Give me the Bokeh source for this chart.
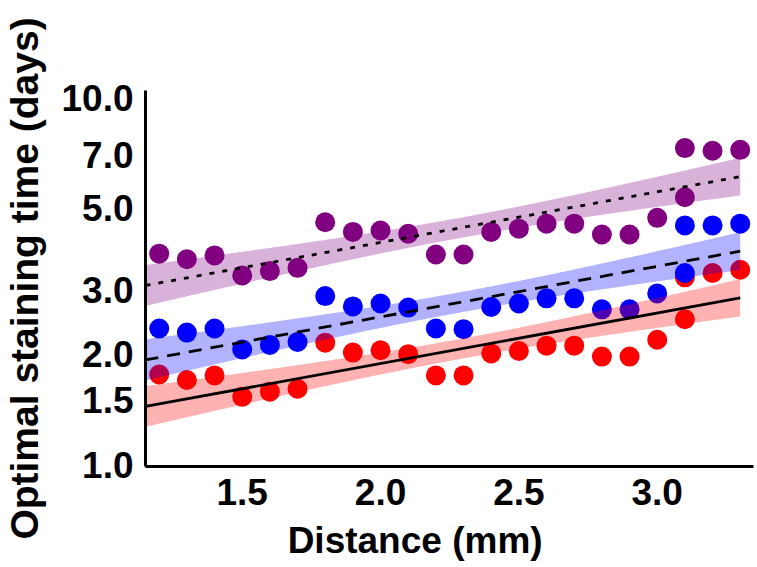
import numpy as np
from bokeh.plotting import figure
from bokeh.models import FixedTicker, PrintfTickFormatter, Range1d, Label
from bokeh.embed import file_html
from bokeh.resources import INLINE

# ---- data ----
distance = [1.2, 1.3, 1.4, 1.5, 1.6, 1.7, 1.8, 1.9, 2.0, 2.1, 2.2, 2.3,
            2.4, 2.5, 2.6, 2.7, 2.8, 2.9, 3.0, 3.1, 3.1, 3.2, 3.3]
red_days = [1.76, 1.70, 1.75, 1.53, 1.58, 1.61, 2.15, 2.02, 2.05, 2.00, 1.75, 1.75,
            2.01, 2.04, 2.11, 2.11, 1.97, 1.97, 2.19, 2.49, 3.24, 3.33, 3.40]
blue_days = [2.35, 2.29, 2.35, 2.06, 2.12, 2.16, 2.88, 2.70, 2.75, 2.68, 2.35, 2.34,
             2.69, 2.75, 2.84, 2.84, 2.65, 2.65, 2.93, 3.33, 4.49, 4.49, 4.54]
purple_days = [3.76, 3.63, 3.72, 3.28, 3.37, 3.44, 4.58, 4.31, 4.35, 4.26, 3.74, 3.74,
               4.31, 4.40, 4.54, 4.54, 4.24, 4.24, 4.71, 5.36, 7.30, 7.18, 7.22]

# fitted trend lines (values at the two ends of each line)
fit_distance = [1.1505, 3.3]
red_fit = [1.44, 2.85]
blue_fit = [1.93, 3.82]
purple_fit = [3.08, 6.10]

x_ticks = [1.5, 2.0, 2.5, 3.0]
y_ticks = [1.0, 1.5, 2.0, 3.0, 5.0, 7.0, 10.0]
x_title = "Distance (mm)"
y_title = "Optimal staining time (days)"

X_START, X_END = 1.1505, 3.348
Y_START, Y_END = 0.9876, 10.48
T_CRIT = 2.08  # 95% two-sided, 21 dof

# anchor of the x-axis title (the reference sets it left of the frame centre)
X_TITLE_AT = (2.125, 0.6215)

FONT = "Liberation Sans"


def trend_band(x, y, fx, fy, xs):
    """Trend line (log-linear through fx, fy) and its 95% confidence band."""
    x = np.asarray(x, dtype=float)
    ly = np.log10(np.asarray(y, dtype=float))
    lf = np.log10(np.asarray(fy, dtype=float))
    b = (lf[1] - lf[0]) / (fx[1] - fx[0])
    a = lf[0] - b * fx[0]
    n = len(x)
    resid = ly - (a + b * x)
    s = np.sqrt(np.sum(resid ** 2) / (n - 2))
    sxx = np.sum((x - x.mean()) ** 2)
    fit = a + b * xs
    half = T_CRIT * s * np.sqrt(1.0 / n + (xs - x.mean()) ** 2 / sxx)
    return 10 ** (fit - half), 10 ** (fit + half)


p = figure(width=757, height=567, y_axis_type="log",
           x_range=Range1d(X_START, X_END), y_range=Range1d(Y_START, Y_END),
           output_backend="svg", toolbar_location=None,
           min_border_left=145, min_border_top=90, min_border_right=4,
           min_border_bottom=101)
p.outline_line_color = None
p.xgrid.visible = False
p.ygrid.visible = False
p.background_fill_color = "white"
p.border_fill_color = "white"

series = [
    (red_days, red_fit, "#ff0000", "solid"),
    (blue_days, blue_fit, "#0000ff", "13 9"),
    (purple_days, purple_fit, "#800080", "5 8"),
]

for ys, _, col, _ in series:
    p.scatter(distance, ys, size=20, fill_color=col, line_color=None)

xs = np.linspace(fit_distance[0], fit_distance[1], 200)
for ys, fy, col, _ in series:
    lo, hi = trend_band(distance, ys, fit_distance, fy, xs)
    p.varea(x=xs, y1=lo, y2=hi, fill_color=col, fill_alpha=0.3)

for _, fy, _, dash in series:
    p.line(fit_distance, fy, line_color="black", line_width=2.8, line_dash=dash)

for ax in (p.xaxis[0], p.yaxis[0]):
    ax.axis_line_width = 3
    ax.axis_line_color = "black"
    ax.major_tick_line_color = None
    ax.minor_tick_line_color = None
    ax.major_tick_out = 0
    ax.major_tick_in = 0
    ax.minor_tick_out = 0
    ax.minor_tick_in = 0
    ax.major_label_text_font = FONT
    ax.major_label_text_font_style = "bold"
    ax.major_label_text_font_size = "37px"
    ax.major_label_text_color = "black"
    ax.axis_label_text_font = FONT
    ax.axis_label_text_font_style = "bold"
    ax.axis_label_text_color = "black"
    ax.formatter = PrintfTickFormatter(format="%.1f")

p.xaxis.ticker = FixedTicker(ticks=x_ticks)
p.yaxis.ticker = FixedTicker(ticks=y_ticks, minor_ticks=[])
p.yaxis.axis_label = y_title
p.yaxis.axis_label_text_font_size = "39px"
p.xaxis.major_label_standoff = 12
p.yaxis.major_label_standoff = 12
p.yaxis.axis_label_standoff = 12

# x-axis title, placed in the bottom panel so that it is not clipped to the frame
p.add_layout(Label(x=X_TITLE_AT[0], y=X_TITLE_AT[1], x_units="data", y_units="data",
                   text=x_title, text_align="center", text_baseline="alphabetic",
                   text_font=FONT, text_font_style="bold", text_font_size="37px",
                   text_color="black"), "below")

open("out.html", "w").write(file_html(p, INLINE))
